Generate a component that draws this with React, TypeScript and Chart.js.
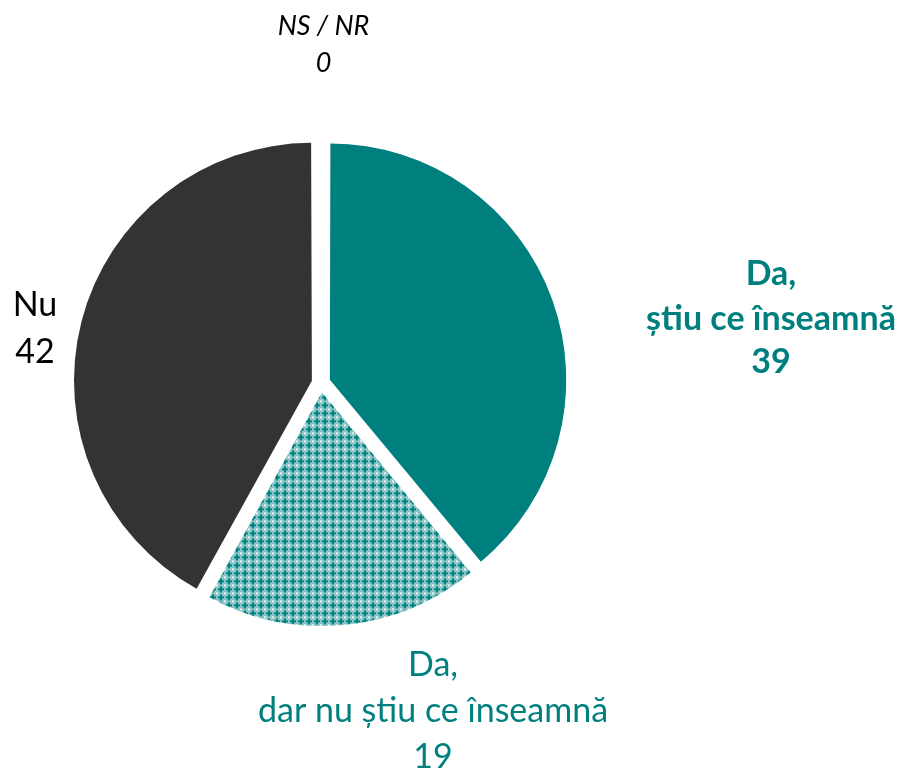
import React, { useEffect, useRef } from "react";
import { Chart, registerables } from "chart.js";

Chart.register(...registerables);

const categories = ["Da, știu ce înseamnă", "Da, dar nu știu ce înseamnă", "Nu", "NS / NR"];
const values = [39, 19, 42, 0];

const TEAL = "#007f7f";
const DARK = "#333333";

function makePattern(): CanvasPattern | string {
  const c = document.createElement("canvas");
  c.width = 8;
  c.height = 8;
  const g = c.getContext("2d");
  if (!g) return TEAL;
  g.fillStyle = "#8cc5c5";
  g.fillRect(0, 0, 8, 8);
  g.fillStyle = TEAL;
  g.fillRect(3, 1, 2, 6);
  g.fillRect(1, 3, 6, 2);
  g.fillStyle = "#ffffff";
  g.fillRect(0, 0, 1, 1);
  g.fillRect(7, 7, 1, 1);
  g.fillStyle = "#d6ecec";
  g.fillRect(7, 0, 1, 1);
  g.fillRect(0, 7, 1, 1);
  const p = g.createPattern(c, "repeat");
  return p || TEAL;
}

type LabelSpec = {
  lines: string[];
  dx: number;
  dy: number[];
  color: string;
  font: string;
};

const labelPlugin = {
  id: "sliceLabels",
  afterDraw(chart: any) {
    const meta = chart.getDatasetMeta(0);
    const arc = meta.data[0];
    if (!arc) return;
    const cx = arc.x;
    const cy = arc.y;
    const fam = 'Lato, "Open Sans", sans-serif';
    const specs: LabelSpec[] = [
      { lines: ["Da,", "știu ce înseamnă", String(values[0])], dx: 450, dy: [-98, -53, -10], color: TEAL, font: `bold 34px ${fam}` },
      { lines: ["Da,", "dar nu știu ce înseamnă", String(values[1])], dx: 112, dy: [293, 339, 385], color: TEAL, font: `normal 34px ${fam}` },
      { lines: ["Nu", String(values[2])], dx: -286, dy: [-67, -20], color: "#000000", font: `normal 34px ${fam}` },
      { lines: ["NS / NR", String(values[3])], dx: 2.5, dy: [-348, -311], color: "#000000", font: `italic normal 27px ${fam}` },
    ];
    const ctx = chart.ctx;
    ctx.save();
    ctx.textAlign = "center";
    ctx.textBaseline = "alphabetic";
    specs.forEach((sp) => {
      ctx.font = sp.font;
      ctx.fillStyle = sp.color;
      sp.lines.forEach((ln, j) => {
        ctx.fillText(ln, cx + sp.dx, cy + sp.dy[j]);
      });
    });
    ctx.restore();
  },
};

export default function App() {
  const ref = useRef<HTMLCanvasElement | null>(null);
  useEffect(() => {
    if (!ref.current) return;
    const pattern = makePattern();
    const chart = new Chart(ref.current, {
      type: "pie",
      data: {
        labels: categories,
        datasets: [
          {
            data: values,
            backgroundColor: [TEAL, pattern as any, DARK, "rgba(0,0,0,0)"],
            borderWidth: 0,
            borderColor: "rgba(0,0,0,0)",
            offset: 37.6,
          },
        ],
      },
      options: {
        responsive: false,
        animation: false,
        radius: 233,
        layout: { padding: { left: 0, right: 260, top: 0, bottom: 5 } },
        plugins: {
          legend: { display: false },
          tooltip: { enabled: false },
        },
      } as any,
      plugins: [labelPlugin],
    });
    return () => chart.destroy();
  }, []);
  return (
    <div style={{ position: "absolute", left: 0, top: 0, width: 902, height: 771, background: "#ffffff" }}>
      <canvas ref={ref} width={902} height={771} style={{ width: 902, height: 771 }} />
    </div>
  );
}
